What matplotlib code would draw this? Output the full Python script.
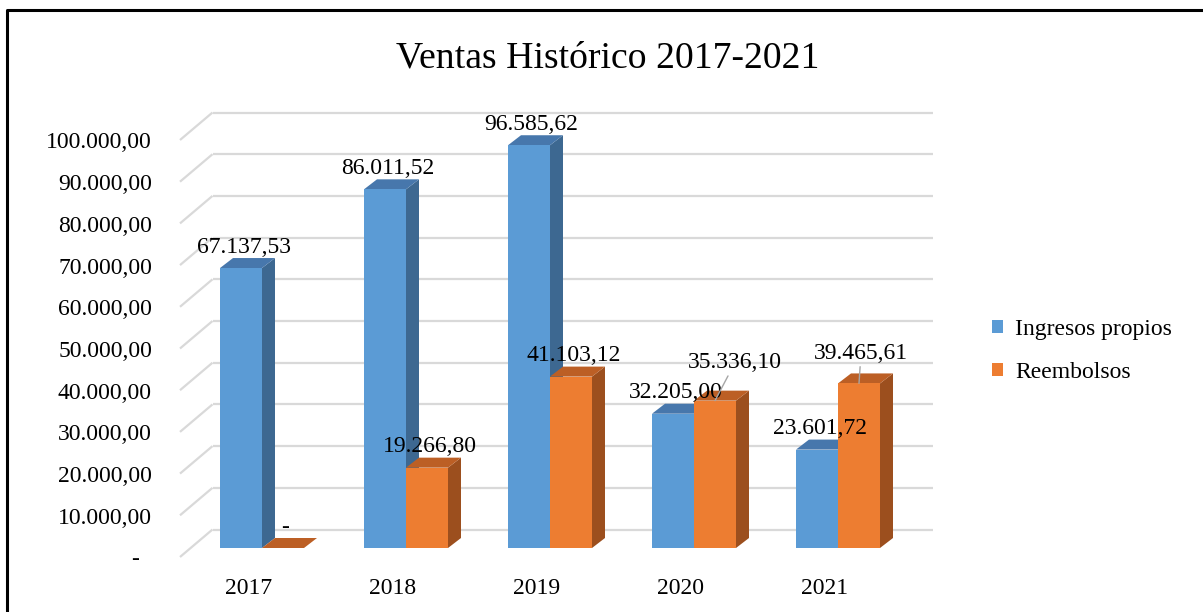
import matplotlib
matplotlib.use("Agg")
import matplotlib.pyplot as plt
from matplotlib.patches import Polygon, Patch
from matplotlib.lines import Line2D

# ---------------- data ----------------
categories = ["2017", "2018", "2019", "2020", "2021"]
ingresos = [67137.53, 86011.52, 96585.62, 32205.00, 23601.72]
reembolsos = [0.0, 19266.80, 41103.12, 35336.10, 39465.61]
series_names = ["Ingresos propios", "Reembolsos"]
y_ticks = [0, 10000, 20000, 30000, 40000, 50000, 60000, 70000, 80000, 90000, 100000]
title = "Ventas Histórico 2017-2021"


def fmt(v):
    if v == 0:
        return "-"
    s = f"{v:,.2f}"
    return s.replace(",", "X").replace(".", ",").replace("X", ".")


plt.rcParams['font.family'] = ['Liberation Serif', 'DejaVu Serif']

W, H = 1203, 612
fig = plt.figure(figsize=(W / 100, H / 100), dpi=100)
fig.patch.set_facecolor('white')

ax = fig.add_axes([190 / W, (H - 548) / H, 720 / W, 417 / H])
ax.set_xlim(-0.5, 4.5)
ax.set_ylim(0, 100000)
ax.axis('off')

PX = 1 / 144.0          # data x-units per pixel
PY = 100000 / 417.0     # data y-units per pixel


def off(dx, dy):
    return dx * PX, dy * PY


bxo, byo = off(22.5, 18.5)   # back wall offset
fxo, fyo = off(-10, -9)      # front plane offset
dxo, dyo = off(13, 10)       # bar depth offset

grid_c = '#D9D9D9'
for v in y_ticks:
    ax.plot([-0.5 + bxo, 4.5 + bxo], [v + byo, v + byo], color=grid_c, lw=1.6,
            zorder=0, clip_on=False, solid_capstyle='butt')
    ax.plot([-0.5 + fxo, -0.5 + bxo], [v + fyo, v + byo], color=grid_c, lw=1.6,
            zorder=0, clip_on=False, solid_capstyle='butt')
    ax.text(-0.5 + fxo - 28 * PX - (13 * PX if v == 0 else 0), v + fyo - 3 * PY,
            fmt(v), ha='right', va='center', fontsize=17, color='#000000')

for i, c in enumerate(categories):
    ax.text(i - 13 * PX, fyo - 31 * PY, c, ha='center', va='center', fontsize=17)

w = 42 / 144.0
series = [ingresos, reembolsos]
colors = [
    ('#5B9BD5', '#4777AC', '#3D6891'),
    ('#ED7D31', '#BC5F25', '#9C4F1E'),
]
label_offsets = {(1, 3): (20, 38), (1, 4): (2, 30)}

for s, vals in enumerate(series):
    front_c, top_c, side_c = colors[s]
    x0s = [i - w if s == 0 else i for i in range(len(categories))]
    for x0, v in zip(x0s, vals):
        x1 = x0 + w
        side = Polygon([(x1, 0), (x1 + dxo, dyo), (x1 + dxo, v + dyo), (x1, v)],
                       closed=True, facecolor=side_c, edgecolor='none',
                       zorder=2 + 2 * s, clip_on=False)
        top = Polygon([(x0, v), (x1, v), (x1 + dxo, v + dyo), (x0 + dxo, v + dyo)],
                      closed=True, facecolor=top_c, edgecolor='none',
                      zorder=2 + 2 * s, clip_on=False)
        ax.add_patch(side)
        ax.add_patch(top)
    ax.bar(x0s, vals, width=w, align='edge', color=front_c, zorder=3 + 2 * s,
           clip_on=False)
    for i, (x0, v) in enumerate(zip(x0s, vals)):
        dx, dy = label_offsets.get((s, i), (2.5, 21))
        leader = (s, i) in label_offsets
        ax.annotate(fmt(v), xy=(x0 + w / 2, v), xytext=(dx * 0.72, dy * 0.72),
                    textcoords='offset points', ha='center', va='center',
                    fontsize=17, zorder=10, annotation_clip=False,
                    arrowprops=dict(arrowstyle='-', color='#A6A6A6', lw=1,
                                    shrinkA=0, shrinkB=0) if leader else None)

fig.text(608 / W, 1 - 58 / H, title, ha='center', va='center', fontsize=27.2)

handles = [Patch(facecolor=colors[0][0]), Patch(facecolor=colors[1][0])]
fig.legend(handles, series_names, loc='center left',
           bbox_to_anchor=(992 / W, 1 - 351 / H), frameon=False, fontsize=17,
           handlelength=0.47, handleheight=0.47, handletextpad=0.5,
           labelspacing=0.93, borderpad=0, borderaxespad=0)

fig.add_artist(Line2D([7 / W, 7 / W, 1], [0, 1 - 10 / H, 1 - 10 / H],
                      transform=fig.transFigure, color='black', lw=2.2))

fig.savefig('out.png', dpi=100, facecolor='white')
